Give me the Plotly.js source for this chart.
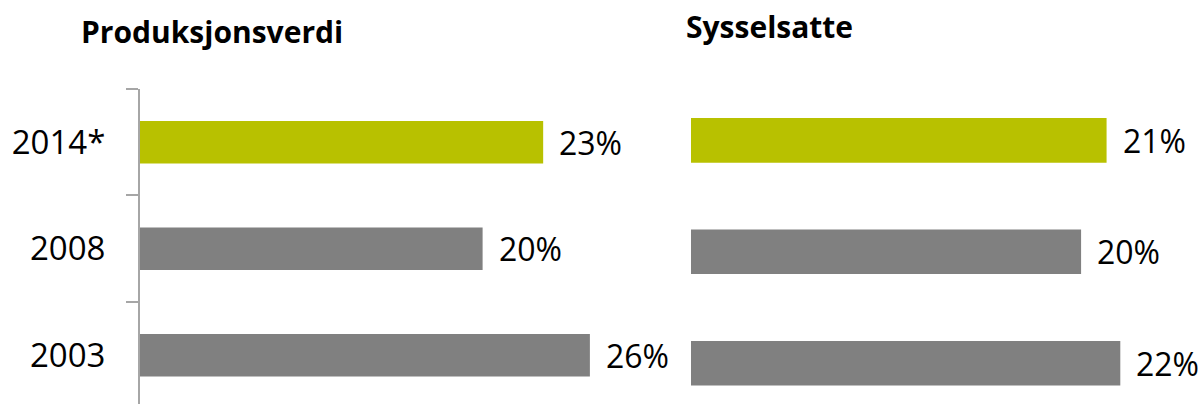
<!DOCTYPE html>
<html>
<head>
<meta charset="utf-8">
<script src="https://cdn.plot.ly/plotly-3.0.1.min.js"></script>
<style>html,body{margin:0;padding:0;background:#fff;}#chart{width:1204px;height:404px;}</style>
</head>
<body>
<div id="chart"></div>
<script>
// Data
var years = ['2003', '2008', '2014*'];
var produksjonsverdi = [26.0, 19.8, 23.3];
var sysselsatte = [21.9, 19.9, 21.2];
var panelTitles = ['Produksjonsverdi', 'Sysselsatte'];

var GREEN = '#b8c100';
var GRAY = '#808080';
var barColors = years.map(function (y) { return y === '2014*' ? GREEN : GRAY; });

var FONT = 'Open Sans, sans-serif';
var W = 1204, H = 404;

var traces = [
  {
    type: 'bar', orientation: 'h', x: produksjonsverdi, y: years,
    xaxis: 'x', yaxis: 'y', width: 0.4,
    marker: {color: barColors}, hoverinfo: 'none'
  },
  {
    type: 'bar', orientation: 'h', x: sysselsatte, y: years,
    xaxis: 'x2', yaxis: 'y2', width: 0.4,
    marker: {color: barColors}, hoverinfo: 'none'
  }
];

var annotations = [];
function addLabels(vals, xr, yr) {
  vals.forEach(function (v, i) {
    annotations.push({
      x: v, y: i, xref: xr, yref: yr,   // category index on the category axis
      text: Math.round(v) + '%', showarrow: false,
      xanchor: 'left', yanchor: 'middle', xshift: 14,
      font: {family: FONT, size: 32, color: '#000'}
    });
  });
}
addLabels(produksjonsverdi, 'x', 'y');
addLabels(sysselsatte, 'x2', 'y2');

annotations.push({
  x: 79 / W, y: 1 - 9 / H, xref: 'paper', yref: 'paper',
  text: '<b>' + panelTitles[0] + '</b>', showarrow: false,
  xanchor: 'left', yanchor: 'top',
  font: {family: FONT, size: 30, color: '#000'}
});
annotations.push({
  x: 684 / W, y: 1 - 4 / H, xref: 'paper', yref: 'paper',
  text: '<b>' + panelTitles[1] + '</b>', showarrow: false,
  xanchor: 'left', yanchor: 'top',
  font: {family: FONT, size: 30, color: '#000'}
});

var layout = {
  width: W, height: H,
  margin: {l: 0, r: 0, t: 0, b: 0},
  paper_bgcolor: '#fff', plot_bgcolor: 'rgba(0,0,0,0)',
  showlegend: false,
  font: {family: FONT, color: '#000'},
  xaxis: {
    domain: [140 / W, 0.5], range: [0, 26.7], visible: false, fixedrange: true
  },
  yaxis: {
    domain: [0, 1 - 89 / H], range: [-0.458, 2.5],
    type: 'category', categoryorder: 'array', categoryarray: years,
    showline: true, linecolor: '#a6a6a6', linewidth: 2,
    ticks: 'outside', tickson: 'boundaries', ticklen: 12, tickwidth: 2, tickcolor: '#a6a6a6',
    showgrid: false, zeroline: false,
    tickfont: {family: FONT, size: 33, color: '#000'},
    ticklabelstandoff: 26, fixedrange: true
  },
  xaxis2: {
    domain: [691 / W, 1], range: [0, 26.17], visible: false, fixedrange: true, anchor: 'y2'
  },
  yaxis2: {
    domain: [0, 1 - 84.6 / H], range: [-0.365, 2.5],
    type: 'category', categoryorder: 'array', categoryarray: years,
    showline: false, ticks: '', showticklabels: false, showgrid: false, zeroline: false,
    anchor: 'x2', fixedrange: true
  },
  annotations: annotations
};

Plotly.newPlot('chart', traces, layout, {displayModeBar: false, staticPlot: true});
</script>
</body>
</html>
